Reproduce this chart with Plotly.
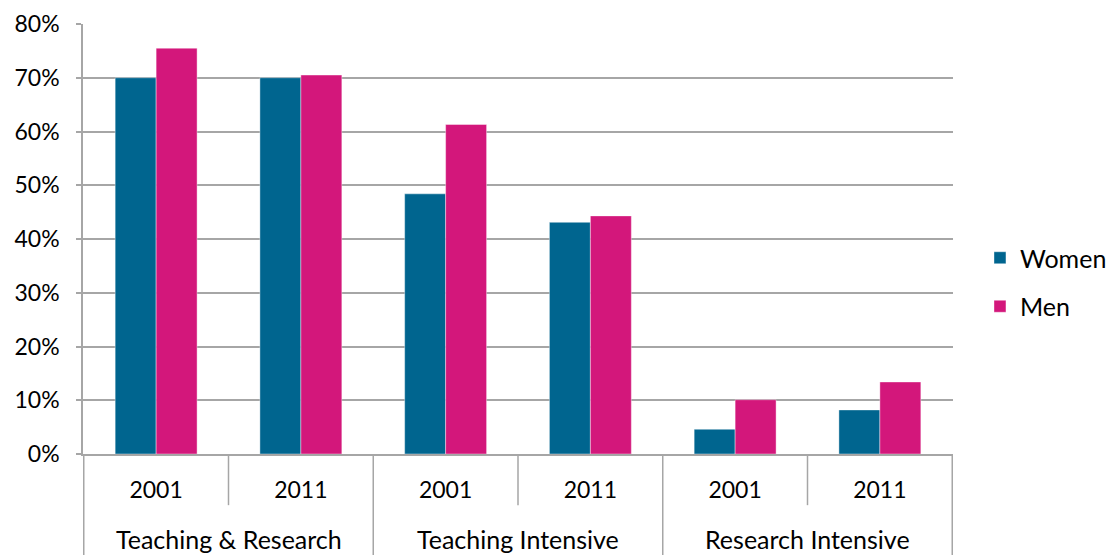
import plotly.graph_objects as go

groups = ["Teaching & Research", "Teaching Intensive", "Research Intensive"]
years = ["2001", "2011"]
women = [70.0, 70.0, 48.4, 43.1, 4.6, 8.2]
men = [75.5, 70.5, 61.3, 44.3, 10.1, 13.4]

cats = [g + " " + y for g in groups for y in years]
year_text = [y for g in groups for y in years]

grey = "#A6A6A6"
font = "Lato, 'Open Sans', sans-serif"

trace1 = go.Bar(x=cats, y=women, name="Women", legendgroup="w",
                marker=dict(color="#00658F", line=dict(color="rgba(255,255,255,0.4)", width=1)))
trace2 = go.Bar(x=cats, y=men, name="Men", legendgroup="m",
                marker=dict(color="#D3177B", line=dict(color="rgba(255,255,255,0.4)", width=1)))

# dividers under the x axis: short ones between years, long ones between groups
shapes = []
n_years = len(years)
for i in range(len(cats) + 1):
	long_line = i % n_years == 0
	shapes.append(dict(type="line", xref="x", yref="paper",
	                   x0=i - 0.5, x1=i - 0.5, y0=0, y1=-0.24 if long_line else -0.119,
	                   line=dict(color=grey, width=1.5)))

annotations = []
for k, g in enumerate(groups):
	annotations.append(dict(text=g, xref="x", yref="paper", x=k * n_years + (n_years - 1) / 2,
	                        y=-0.198, yanchor="middle", showarrow=False,
	                        font=dict(size=25, color="#000000", family=font)))

layout = go.Layout(
	barmode="group",
	bargap=0.434,
	bargroupgap=0,
	xaxis=dict(
		type="category",
		tickvals=cats,
		ticktext=year_text,
		ticks="",
		showline=True,
		linecolor=grey,
		linewidth=1.5,
		showgrid=False,
		ticklabelstandoff=15,
		tickfont=dict(size=23, color="#000000", family=font),
	),
	yaxis=dict(
		range=[0, 80],
		dtick=10,
		ticksuffix="%",
		showline=True,
		linecolor=grey,
		linewidth=1.5,
		ticks="outside",
		ticklen=5,
		tickcolor=grey,
		tickwidth=1.5,
		gridcolor=grey,
		gridwidth=1.5,
		zeroline=False,
		ticklabelstandoff=12,
		tickfont=dict(size=23, color="#000000", family=font),
	),
	legend=dict(x=1.031, xanchor="left", y=0.40, yanchor="middle",
	            traceorder="grouped", tracegroupgap=13,
	            font=dict(size=25, color="#000000", family=font)),
	shapes=shapes,
	annotations=annotations,
	plot_bgcolor="white",
	paper_bgcolor="white",
	margin=dict(l=83, r=157, t=24, b=101, autoexpand=False),
	width=1110,
	height=555,
)

fig = go.Figure(data=[trace1, trace2], layout=layout)
fig.write_html("out.html", config=dict(displayModeBar=False),
               post_script="document.body.style.margin='0';")
